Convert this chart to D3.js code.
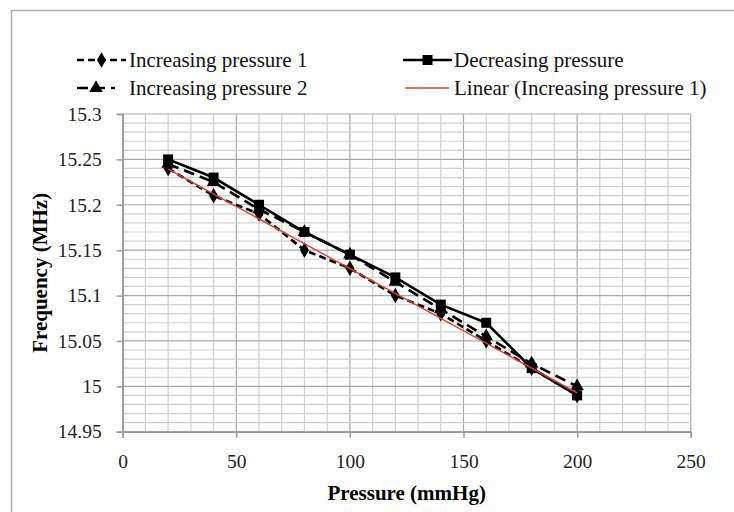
<!DOCTYPE html>
<html><head><meta charset="utf-8">
<script src="https://cdn.jsdelivr.net/npm/d3@7"></script>
<style>body{margin:0;background:#fff;} svg{display:block;font-family:"Liberation Serif","Times New Roman",serif;} svg text{font-family:"Liberation Serif","Times New Roman",serif;}</style>
</head><body>
<svg id="c" width="734" height="512"></svg>
<script>
const pressure = [20, 40, 60, 80, 100, 120, 140, 160, 180, 200];
const increasing1 = [15.24, 15.21, 15.19, 15.15, 15.13, 15.10, 15.08, 15.05, 15.02, 14.99];
const increasing2 = [15.245, 15.225, 15.195, 15.17, 15.145, 15.115, 15.085, 15.055, 15.025, 15.0];
const decreasing = [15.25, 15.23, 15.20, 15.17, 15.145, 15.12, 15.09, 15.07, 15.02, 14.99];
const xTicks = [0, 50, 100, 150, 200, 250];
const yTicks = [14.95, 15, 15.05, 15.1, 15.15, 15.2, 15.25, 15.3];
const legendLabels = ["Increasing pressure 1", "Decreasing pressure", "Increasing pressure 2", "Linear (Increasing pressure 1)"];

const svg = d3.select("#c");
const L = 122.7, R = 690.7, T = 114, B = 431.7;
const x = d3.scaleLinear().domain([0, 250]).range([L, R]);
const y = d3.scaleLinear().domain([14.95, 15.3]).range([B, T]);

// outer frame
svg.append("rect").attr("x", 11.5).attr("y", 10.5).attr("width", 740).attr("height", 520)
  .attr("fill", "#fff").attr("stroke", "#b0b0b0").attr("stroke-width", 1.5);

// grid
const g = svg.append("g");
d3.range(0, 251, 10).forEach(v => {
  g.append("line").attr("x1", x(v)).attr("x2", x(v)).attr("y1", T).attr("y2", B)
    .attr("stroke", v % 50 === 0 ? "#a8a8a8" : "#cfcfcf").attr("stroke-width", 1.2);
});
d3.range(0, 36).forEach(i => {
  const v = 14.95 + i * 0.01;
  const major = i % 5 === 0;
  g.append("line").attr("x1", L).attr("x2", R).attr("y1", y(v)).attr("y2", y(v))
    .attr("stroke", major ? "#a8a8a8" : "#cfcfcf").attr("stroke-width", 1.2);
});

// axes
const xAxis = svg.append("g").attr("transform", `translate(0,${B})`)
  .call(d3.axisBottom(x).tickValues(xTicks).tickSize(6).tickPadding(16).tickFormat(d3.format("d")));
const yAxis = svg.append("g").attr("transform", `translate(${L},0)`)
  .call(d3.axisLeft(y).tickValues(yTicks).tickSize(6).tickPadding(15).tickFormat(d => +d.toFixed(2) + ""));
[xAxis, yAxis].forEach(a => {
  a.attr("font-family", null).attr("font-size", null);
  a.select(".domain").attr("stroke", "#999").attr("stroke-width", 1.5);
  a.selectAll(".tick line").attr("stroke", "#999").attr("stroke-width", 1.5);
  a.selectAll("text").style("font-family", "'Liberation Serif', serif").style("font-size", "19.5px").attr("fill", "#222");
});

// linear trendline from increasing1 (least squares)
const mx = d3.mean(pressure), my = d3.mean(increasing1);
const slope = d3.sum(pressure.map((p, i) => (p - mx) * (increasing1[i] - my))) / d3.sum(pressure.map(p => (p - mx) ** 2));
const icpt = my - slope * mx;

const line = d3.line().x(d => x(d[0])).y(d => y(d[1]));
const series = [
  {vals: increasing2, dash: "11,6", sym: d3.symbolTriangle, size: 80},
  {vals: increasing1, dash: "7,4", sym: d3.symbolDiamond, size: 70},
  {vals: decreasing, dash: null, sym: d3.symbolSquare, size: 100},
];
series.forEach(s => {
  const pts = pressure.map((p, i) => [p, s.vals[i]]);
  svg.append("path").attr("d", line(pts)).attr("fill", "none").attr("stroke", "#000")
    .attr("stroke-width", 2.6).attr("stroke-dasharray", s.dash);
  svg.selectAll(null).data(pts).enter().append("path")
    .attr("d", d3.symbol().type(s.sym).size(s.size))
    .attr("transform", d => `translate(${x(d[0])},${y(d[1])})`).attr("fill", "#000");
});
const fitPts = [pressure[0], pressure[pressure.length - 1]].map(p => [p, icpt + slope * p]);
svg.append("path").attr("d", line(fitPts)).attr("fill", "none").attr("stroke", "#e0402a").attr("stroke-width", 1.4);

// axis titles
svg.append("text").attr("x", x(125)).attr("y", 500).attr("text-anchor", "middle")
  .attr("font-weight", "bold").attr("font-size", 21).text("Pressure (mmHg)");
svg.append("text").attr("transform", `translate(47,${(T + B) / 2}) rotate(-90)`).attr("text-anchor", "middle")
  .attr("font-weight", "bold").attr("font-size", 21).text("Frequency (MHz)");

// legend
const lg = svg.append("g").attr("font-size", 21);
const legendItems = [
  {lx: 77, lx2: 126, ly: 60, dash: "7,4", sym: d3.symbolDiamond, size: 70, color: "#000", w: 2.6, tx: 129},
  {lx: 403, lx2: 452, ly: 60, dash: null, sym: d3.symbolSquare, size: 100, color: "#000", w: 2.6, tx: 454},
  {lx: 77, lx2: 115, ly: 88, dash: "11,6", sym: d3.symbolTriangle, size: 80, color: "#000", w: 2.6, tx: 129},
  {lx: 405, lx2: 449, ly: 88, dash: null, sym: null, color: "#e0402a", w: 1.4, tx: 454},
];
legendItems.forEach((it, i) => {
  lg.append("line").attr("x1", it.lx).attr("x2", it.lx2).attr("y1", it.ly).attr("y2", it.ly)
    .attr("stroke", it.color).attr("stroke-width", it.w).attr("stroke-dasharray", it.dash);
  if (it.sym) lg.append("path").attr("d", d3.symbol().type(it.sym).size(it.size)())
    .attr("transform", `translate(${(it.lx + it.lx2) / 2},${it.ly})`);
  lg.append("text").attr("x", it.tx).attr("y", it.ly).attr("dy", "0.35em").attr("fill", "#111").text(legendLabels[i]);
});
</script>
</body></html>
